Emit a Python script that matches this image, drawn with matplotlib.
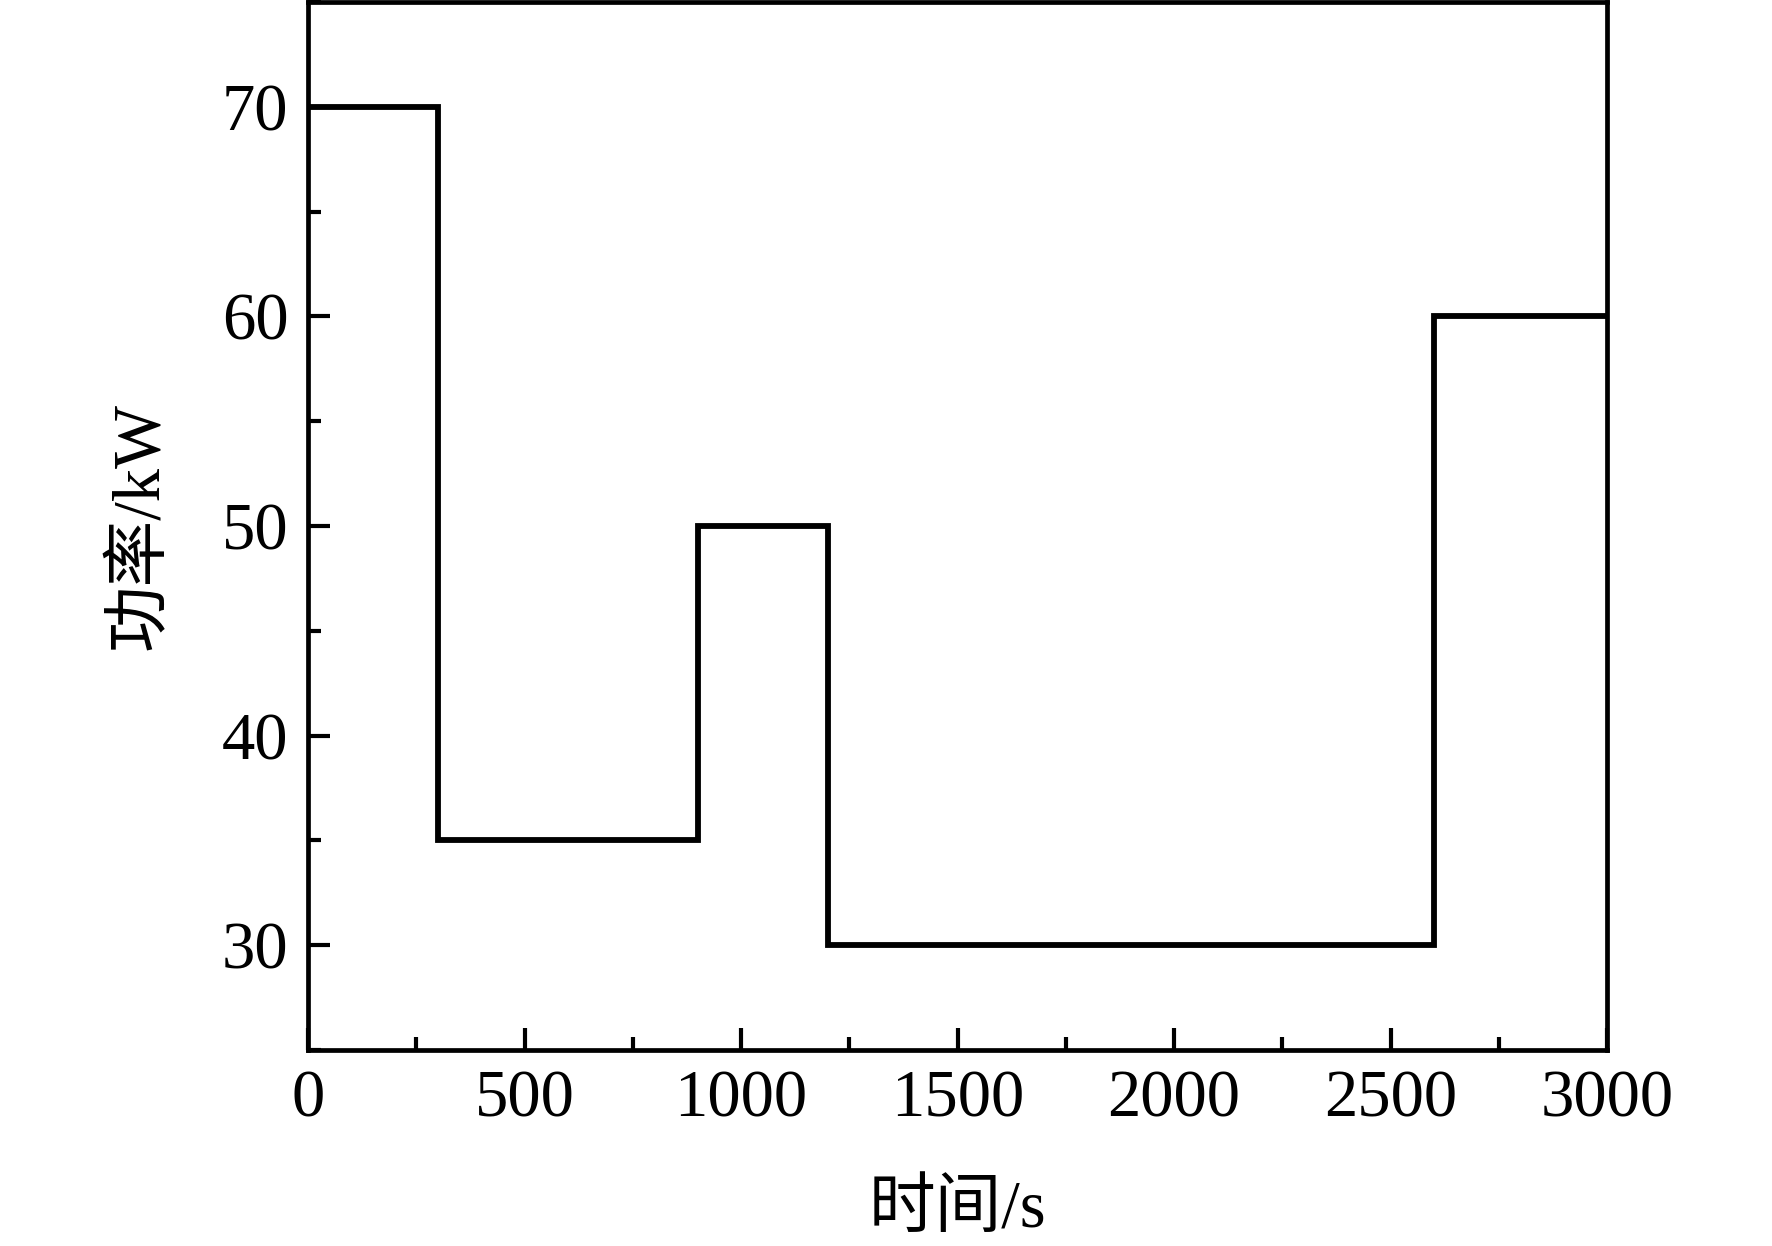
import matplotlib
matplotlib.use('Agg')
import matplotlib.pyplot as plt
from matplotlib.ticker import MultipleLocator

# time edges (s) and power for each segment (kW)
time_edges = [0, 300, 900, 1200, 2600, 3000]
power = [70, 35, 50, 30, 60]

plt.rcParams['font.family'] = ['Liberation Serif', 'Noto Sans CJK SC', 'DejaVu Sans']

fig = plt.figure(figsize=(17.72, 12.46), dpi=100)
ax = fig.add_axes([308/1772, 1 - 1050/1246, (1607-308)/1772, (1050-2)/1246])

ax.stairs(power, time_edges, color='black', linewidth=4.2, baseline=None)

ax.set_xlim(0, 3000)
ax.set_ylim(25, 75)
ax.xaxis.set_major_locator(MultipleLocator(500))
ax.xaxis.set_minor_locator(MultipleLocator(250))
ax.yaxis.set_major_locator(MultipleLocator(10))
ax.yaxis.set_minor_locator(MultipleLocator(5))

for s in ax.spines.values():
    s.set_linewidth(3.4)
ax.tick_params(which='both', direction='in', width=3.0, labelsize=48)
ax.tick_params(which='major', length=16)
ax.tick_params(which='minor', length=9.5)
ax.tick_params(axis='x', pad=14)
ax.tick_params(axis='y', pad=14)

ax.set_xlabel('时间/s', fontsize=48, labelpad=36)
ax.set_ylabel('功率/kW', fontsize=48, labelpad=36)

fig.savefig('out.png', dpi=100)
